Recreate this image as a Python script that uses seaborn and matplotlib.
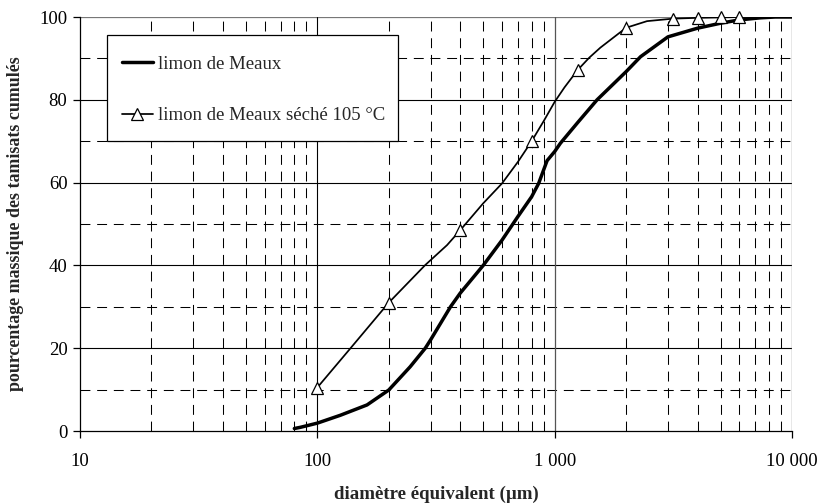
import numpy as np
import pandas as pd
import matplotlib
matplotlib.use("Agg")
import matplotlib.pyplot as plt
from matplotlib.lines import Line2D
from matplotlib.patches import Rectangle
from matplotlib.ticker import FixedLocator, NullFormatter
import seaborn as sns

# --- data ---
# limon de Meaux (thick curve, traced)
meaux_d = [80, 85, 100, 125, 162, 200, 246, 285, 300, 364, 400, 500, 600, 700, 800, 856, 929,
           1000, 1057, 1250, 1509, 2000, 2300, 3000, 4000, 5000, 6000, 7360, 8500, 10000]
meaux_p = [0.6, 0.9, 1.9, 3.8, 6.3, 9.9, 15.5, 20.0, 22.0, 30.0, 33.3, 40.0, 46.1, 51.8, 56.6, 59.8, 65.3,
           67.5, 69.5, 74.5, 80.0, 86.8, 90.4, 95.2, 97.3, 98.5, 99.3, 99.8, 100.0, 100.0]

# limon de Meaux séché 105 °C (measured points with markers)
seche_d = [100, 200, 400, 800, 1250, 2000, 3150, 4000, 5000, 6000]
seche_p = [10.5, 31.0, 48.5, 70.0, 87.2, 97.4, 99.6, 99.8, 99.9, 100.0]
# traced curve between the markers
seche_curve_d = [100, 138, 200, 285, 352, 400, 500, 600, 700, 800, 870, 900, 1000, 1100, 1250,
                 1400, 1558, 2000, 2450, 3150, 4000, 5000, 6000, 8000, 10000]
seche_curve_p = [10.5, 20.0, 31.0, 40.1, 44.9, 48.5, 55.0, 59.8, 65.0, 70.0, 73.5, 74.9, 79.5, 83.0, 87.2,
                 90.2, 92.6, 97.4, 99.0, 99.6, 99.8, 99.9, 100.0, 100.0, 100.0]

xticks = [10, 100, 1000, 10000]
xtick_labels = ["10", "100", "1 000", "10 000"]
yticks = [0, 20, 40, 60, 80, 100]

label1 = "limon de Meaux"
label2 = "limon de Meaux séché 105 °C"
xlabel = "diamètre équivalent (µm)"
ylabel = "pourcentage massique des tamisats cumulés"

sns.set_style("white")
plt.rcParams["font.family"] = ["Liberation Serif", "DejaVu Serif"]

fig = plt.figure(figsize=(8.2, 5.03), dpi=100)
ax = fig.add_axes([80 / 820, (503 - 431) / 503, (792 - 80) / 820, (431 - 17) / 503])
ax.set_xscale("log")
ax.set_xlim(10, 10000)
ax.set_ylim(0, 100)

# grid: minor dashed, major solid
dash = (0, (9.5, 6.5))
for dec in [10, 100, 1000]:
    for k in range(2, 10):
        ax.axvline(dec * k, color="black", lw=0.75, ls=dash, zorder=1)
for v in [10, 30, 50, 70, 90]:
    ax.axhline(v, color="black", lw=0.75, ls=dash, zorder=1)
for v in [20, 40, 60, 80]:
    ax.axhline(v, color="black", lw=0.8, zorder=1)
ax.axhline(100, color="#777777", lw=0.9, zorder=1)
ax.axvline(100, color="black", lw=0.8, zorder=1)
ax.axvline(1000, color="#555555", lw=0.9, zorder=1)
ax.axvline(10000, color="#888888", lw=1.0, zorder=1)

df1 = pd.DataFrame({"d": meaux_d, "p": meaux_p})
df2c = pd.DataFrame({"d": seche_curve_d, "p": seche_curve_p})
df2 = pd.DataFrame({"d": seche_d, "p": seche_p})

sns.lineplot(data=df2c, x="d", y="p", ax=ax, color="black", lw=1.25, sort=False, zorder=3)
sns.lineplot(data=df1, x="d", y="p", ax=ax, color="black", lw=2.5, sort=False, zorder=4)
ax.plot(df2["d"], df2["p"], ls="none", marker="^", ms=9, mfc="white", mec="black", mew=0.9,
        zorder=5, clip_on=False)

ax.xaxis.set_major_locator(FixedLocator(xticks))
ax.xaxis.set_minor_locator(FixedLocator([]))
ax.xaxis.set_minor_formatter(NullFormatter())
ax.set_xticks(xticks)
ax.set_xticklabels(xtick_labels)
ax.set_yticks(yticks)
ax.tick_params(axis="both", which="major", direction="out", length=5, width=0.9,
               color="black", labelsize=13.5, labelcolor="black", bottom=True, left=True)
ax.tick_params(axis="x", pad=11)
ax.tick_params(axis="y", pad=4)

for s in ["top", "right"]:
    ax.spines[s].set_visible(False)
for s in ["left", "bottom"]:
    ax.spines[s].set_visible(True)
    ax.spines[s].set_color("black")
    ax.spines[s].set_linewidth(0.9)

ax.set_xlabel(xlabel, fontsize=13.6, fontweight="bold", labelpad=11)
ax.set_ylabel(ylabel, fontsize=12.9, fontweight="bold", labelpad=11)

# legend box (frame drawn in axes coordinates)
box = Rectangle((27 / 712, (431 - 141) / 414), (398 - 107) / 712, (141 - 35) / 414,
                transform=ax.transAxes, facecolor="white", edgecolor="black", lw=0.9, zorder=9)
ax.add_patch(box)

handles = [Line2D([], [], color="black", lw=2.5),
           Line2D([], [], color="black", lw=1.25, marker="^", ms=9, mfc="white", mec="black", mew=0.9)]
leg = ax.legend(handles, [label1, label2], loc="center left",
                bbox_to_anchor=((122 - 80) / 712, (431 - 90) / 414),
                fontsize=13.5, frameon=False, handlelength=1.65, handletextpad=0.25,
                labelspacing=1.83, borderpad=0, borderaxespad=0)
leg.set_zorder(10)

fig.savefig("out.png", dpi=100)
